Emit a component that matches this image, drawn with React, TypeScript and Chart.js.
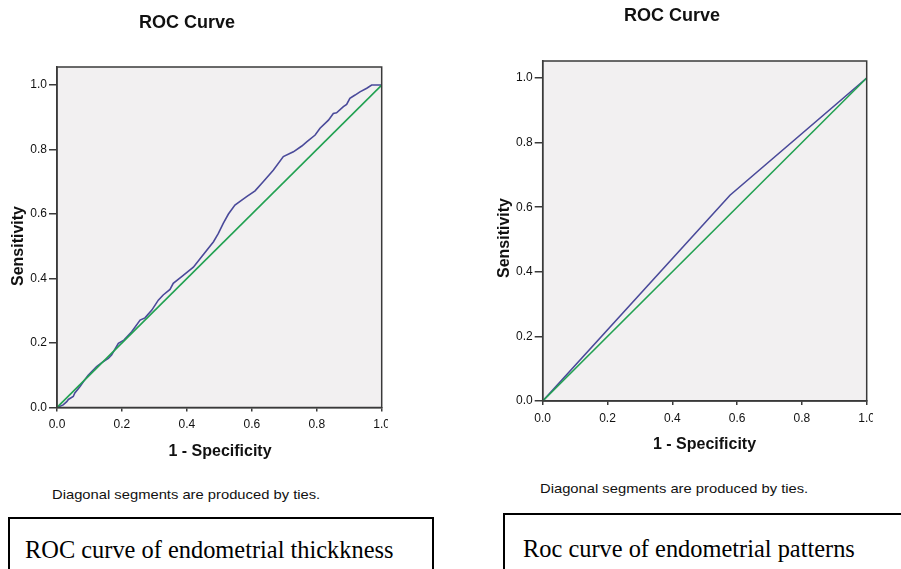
import React, { useEffect, useRef } from "react";
import { Chart, registerables } from "chart.js";

Chart.register(...registerables);

// ---- data ----
const thicknessFpr = [0, 0.019, 0.03, 0.035, 0.05, 0.055, 0.071, 0.081, 0.096, 0.122, 0.138, 0.158, 0.168, 0.189, 0.206, 0.23, 0.256, 0.271, 0.292, 0.312, 0.327, 0.348, 0.358, 0.384, 0.42, 0.446, 0.482, 0.497, 0.512, 0.528, 0.548, 0.584, 0.61, 0.635, 0.666, 0.697, 0.728, 0.754, 0.769, 0.795, 0.81, 0.836, 0.851, 0.861, 0.882, 0.892, 0.902, 0.918, 0.933, 0.954, 0.969, 1.0];
const thicknessTpr = [0, 0.008, 0.018, 0.025, 0.034, 0.045, 0.065, 0.08, 0.1, 0.127, 0.139, 0.152, 0.163, 0.199, 0.209, 0.235, 0.271, 0.278, 0.302, 0.333, 0.349, 0.366, 0.385, 0.406, 0.435, 0.468, 0.514, 0.54, 0.571, 0.6, 0.628, 0.654, 0.672, 0.7, 0.736, 0.778, 0.793, 0.811, 0.824, 0.845, 0.866, 0.891, 0.912, 0.914, 0.933, 0.94, 0.959, 0.969, 0.979, 0.99, 1.0, 1.0];
const patternFpr = [0, 0.578, 1.0];
const patternTpr = [0, 0.637, 1.0];
const diagFpr = [0, 1];
const diagTpr = [0, 1];
const tickValues = [0, 0.2, 0.4, 0.6, 0.8, 1.0];

const chartTitle = "ROC Curve";
const xTitle = "1 - Specificity";
const yTitle = "Sensitivity";
const footnote = "Diagonal segments are produced by ties.";
const captionLeft = "ROC curve of endometrial thickkness";
const captionRight = "Roc curve of endometrial patterns";

const BLUE = "#4a4a9a";
const GREEN = "#22a152";
const PLOT_BG = "#f2f0f1";
const AXIS = "#3a3a3a";
const FONT = "'Liberation Sans', Arial, sans-serif";

const toPts = (xs: number[], ys: number[]) => xs.map((x, i) => ({ x, y: ys[i] }));

const framePlugin = {
  id: "frame",
  beforeDraw(chart: any) {
    const { ctx, chartArea: a } = chart;
    ctx.save();
    ctx.fillStyle = PLOT_BG;
    ctx.fillRect(a.left, a.top, a.right - a.left, a.bottom - a.top);
    ctx.restore();
  },
  afterDraw(chart: any, _a: any, o: any) {
    const { ctx, chartArea: a } = chart;
    ctx.save();
    ctx.strokeStyle = AXIS;
    ctx.lineWidth = 1.5;
    ctx.strokeRect(a.left, a.top, a.right - a.left, a.bottom - a.top);
    ctx.fillStyle = "#111";
    ctx.textAlign = "center";
    ctx.textBaseline = "middle";
    ctx.font = `bold ${o.titleSize}px ${FONT}`;
    ctx.fillText(chartTitle, o.titleX, o.titleY);
    ctx.font = `bold ${o.axisSize}px ${FONT}`;
    ctx.fillText(xTitle, o.xTitleX, o.xTitleY);
    ctx.translate(o.yTitleX, o.yTitleY);
    ctx.rotate(-Math.PI / 2);
    ctx.fillText(yTitle, 0, 0);
    ctx.restore();
  },
};

type Cfg = {
  curveX: number[];
  curveY: number[];
  width: number;
  height: number;
  left: number;
  right: number;
  top: number;
  bottom: number;
  yMax: number;
  tickSize: number;
  frame: any;
};

function RocChart({ cfg }: { cfg: Cfg }) {
  const ref = useRef<HTMLCanvasElement | null>(null);
  useEffect(() => {
    if (!ref.current) return;
    const c = cfg;
    const chart = new Chart(ref.current, {
      type: "scatter",
      data: {
        datasets: [
          {
            data: toPts(diagFpr, diagTpr),
            showLine: true,
            borderColor: GREEN,
            borderWidth: 1.6,
            pointRadius: 0,
          },
          {
            data: toPts(c.curveX, c.curveY),
            showLine: true,
            borderColor: BLUE,
            borderWidth: 1.6,
            pointRadius: 0,
          },
        ],
      },
      options: {
        animation: false,
        responsive: false,
        events: [],
        layout: {
          padding: { left: 0, top: c.top, right: c.width - c.right, bottom: 0 },
        },
        plugins: {
          legend: { display: false },
          tooltip: { enabled: false },
          title: { display: false },
          frame: c.frame,
        } as any,
        scales: {
          x: {
            type: "linear",
            min: 0,
            max: 1,
            afterBuildTicks: (s: any) => {
              s.ticks = tickValues.map((v) => ({ value: v }));
            },
            afterFit: (s: any) => {
              s.height = c.height - c.bottom;
              s.paddingLeft = 0;
              s.paddingRight = 0;
            },
            grid: {
              drawOnChartArea: false,
              drawTicks: true,
              tickLength: 4,
              color: AXIS,
              lineWidth: 1.5,
            },
            border: { display: true, color: AXIS, width: 1.5 },
            ticks: {
              padding: 6,
              color: "#111",
              font: { family: FONT, size: c.tickSize },
              maxRotation: 0,
              autoSkip: false,
              callback: (v: any) => Number(v).toFixed(1),
            },
          },
          y: {
            type: "linear",
            min: 0,
            max: c.yMax,
            afterBuildTicks: (s: any) => {
              s.ticks = tickValues.map((v) => ({ value: v }));
            },
            afterFit: (s: any) => {
              s.width = c.left;
              s.paddingTop = 0;
              s.paddingBottom = 0;
            },
            grid: {
              drawOnChartArea: false,
              drawTicks: true,
              tickLength: 8,
              color: AXIS,
              lineWidth: 1.5,
            },
            border: { display: true, color: AXIS, width: 1.5 },
            ticks: {
              padding: 2,
              color: "#111",
              font: { family: FONT, size: c.tickSize },
              autoSkip: false,
              callback: (v: any) => Number(v).toFixed(1),
            },
          },
        },
      },
      plugins: [framePlugin as any],
    });
    return () => chart.destroy();
  }, [cfg]);
  return <canvas ref={ref} width={cfg.width} height={cfg.height} style={{ display: "block", width: cfg.width, height: cfg.height }} />;
}

const leftCfg: Cfg = {
  curveX: thicknessFpr,
  curveY: thicknessTpr,
  width: 388,
  height: 470,
  left: 57,
  right: 381.7,
  top: 67,
  bottom: 407.5,
  yMax: 1.056,
  tickSize: 12,
  frame: { titleSize: 18, titleX: 187, titleY: 23, axisSize: 16, xTitleX: 220, xTitleY: 451.5, yTitleX: 19, yTitleY: 246 },
};

const rightCfg: Cfg = {
  curveX: patternFpr,
  curveY: patternTpr,
  width: 393,
  height: 470,
  left: 62.7,
  right: 386.7,
  top: 61,
  bottom: 401,
  yMax: 1.0526,
  tickSize: 12,
  frame: { titleSize: 18, titleX: 192, titleY: 16, axisSize: 16, xTitleX: 224.5, xTitleY: 445, yTitleX: 25, yTitleY: 238 },
};

export default function App() {
  const foot: React.CSSProperties = {
    position: "absolute",
    fontFamily: FONT,
    fontSize: 13,
    color: "#111",
    whiteSpace: "nowrap",
    lineHeight: "14px",
    transform: "scaleX(1.135)",
    transformOrigin: "left center",
  };
  const box: React.CSSProperties = {
    position: "absolute",
    border: "2px solid #000",
    boxSizing: "border-box",
    height: 90,
  };
  const cap: React.CSSProperties = {
    position: "absolute",
    fontFamily: "'Liberation Serif', 'Times New Roman', serif",
    fontSize: 24.4,
    color: "#000",
    whiteSpace: "nowrap",
    lineHeight: "26px",
  };
  return (
    <div style={{ position: "absolute", left: 0, top: 0, width: 901, height: 569, overflow: "hidden", background: "#fff" }}>
      <div style={{ position: "absolute", left: 0, top: 0 }}>
        <RocChart cfg={leftCfg} />
      </div>
      <div style={{ position: "absolute", left: 480, top: 0 }}>
        <RocChart cfg={rightCfg} />
      </div>
      <div style={{ ...foot, left: 52, top: 488 }}>{footnote}</div>
      <div style={{ ...foot, left: 540, top: 482 }}>{footnote}</div>
      <div style={{ ...box, left: 8, top: 517, width: 426 }}>
        <div style={{ ...cap, left: 15, top: 18 }}>{captionLeft}</div>
      </div>
      <div style={{ ...box, left: 503, top: 513, width: 420 }}>
        <div style={{ ...cap, left: 18, top: 21 }}>{captionRight}</div>
      </div>
    </div>
  );
}
